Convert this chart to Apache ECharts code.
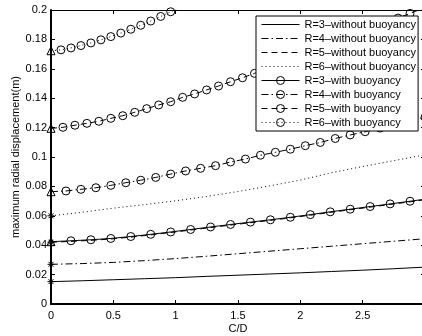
<!DOCTYPE html>
<html>
<head>
<meta charset="utf-8">
<script src="https://cdn.jsdelivr.net/npm/echarts@6/dist/echarts.min.js"></script>
<style>
html,body{margin:0;padding:0;background:#fff;}
#chart{width:422px;height:336px;}
</style>
</head>
<body>
<div id="chart"></div>
<script>
// ---- tick labels ----
var xTickLabels = ['0', '0.5', '1', '1.5', '2', '2.5', '3'];
var yTickLabels = ['0', '0.02', '0.04', '0.06', '0.08', '0.1', '0.12', '0.14', '0.16', '0.18', '0.2'];

// ---- legend names ----
var seriesNames = [
  'R=3–without buoyancy', 'R=4–without buoyancy', 'R=5–without buoyancy', 'R=6–without buoyancy',
  'R=3–with buoyancy', 'R=4–with buoyancy', 'R=5–with buoyancy', 'R=6–with buoyancy'
];

// ---- without buoyancy (C/D, displacement) ----
var cdBase = [0, 0.25, 0.5, 0.75, 1, 1.25, 1.5, 1.75, 2, 2.25, 2.5, 2.75, 3];
var r3Without = [0.0152, 0.0158, 0.0165, 0.0172, 0.0179, 0.0188, 0.0196, 0.0204, 0.0212, 0.0221, 0.0230, 0.0240, 0.0251];
var r4Without = [0.0270, 0.0275, 0.0283, 0.0295, 0.0309, 0.0325, 0.0342, 0.0359, 0.0376, 0.0393, 0.0410, 0.0427, 0.0444];
var r6Without = [0.0600, 0.0624, 0.0652, 0.0676, 0.0702, 0.0732, 0.0765, 0.0803, 0.0843, 0.0893, 0.0935, 0.0975, 0.1015];
var cdR5Without = [0, 0.16, 0.32, 0.48, 0.64, 0.8, 0.96, 1.12, 1.28, 1.44, 1.6, 1.76, 1.92, 2.08, 2.24, 2.4, 2.56, 2.72, 2.88, 3.04];
var r5Without = [0.0420, 0.0426, 0.0433, 0.0442, 0.0455, 0.0470, 0.0486, 0.0503, 0.0520, 0.0537, 0.0553, 0.0569, 0.0586, 0.0604, 0.0623, 0.0641, 0.0659, 0.0677, 0.0695, 0.0714];

// ---- with buoyancy (C/D, displacement) ----
var cdR3With = [0, 0.16, 0.32, 0.48, 0.64, 0.8, 0.96, 1.12, 1.28, 1.44, 1.6, 1.76, 1.92, 2.08, 2.24, 2.4, 2.56, 2.72, 2.88, 3.04];
var r3With = [0.0424, 0.0430, 0.0437, 0.0446, 0.0459, 0.0474, 0.0490, 0.0507, 0.0524, 0.0541, 0.0557, 0.0573, 0.0590, 0.0608, 0.0627, 0.0645, 0.0663, 0.0681, 0.0699, 0.0718];

var cdR4With = [0, 0.12, 0.24, 0.36, 0.48, 0.6, 0.72, 0.84, 0.96, 1.08, 1.2, 1.32, 1.44, 1.56, 1.68, 1.8, 1.92, 2.04, 2.16, 2.28, 2.4, 2.52, 2.64, 2.76, 2.88, 3.0];
var r4With = [0.0764, 0.0769, 0.0780, 0.0791, 0.0807, 0.0825, 0.0842, 0.0861, 0.0884, 0.0905, 0.0923, 0.0941, 0.0966, 0.0986, 0.1012, 0.1032, 0.1053, 0.1077, 0.1099, 0.1126, 0.1150, 0.1172, 0.1197, 0.1221, 0.1245, 0.1270];

var cdR5With = [0, 0.096, 0.192, 0.288, 0.384, 0.48, 0.576, 0.672, 0.768, 0.864, 0.96, 1.056, 1.152, 1.248, 1.344, 1.44, 1.536, 1.632, 1.728, 1.824, 1.92, 2.016, 2.112, 2.208, 2.304, 2.4, 2.496, 2.592, 2.688, 2.784, 2.88, 2.976];
var r5With = [0.1195, 0.1202, 0.1216, 0.1229, 0.1243, 0.1263, 0.1281, 0.1304, 0.1329, 0.1354, 0.1376, 0.1406, 0.1429, 0.1456, 0.1483, 0.1512, 0.1539, 0.1569, 0.1599, 0.1629, 0.1660, 0.1691, 0.1722, 0.1753, 0.1785, 0.1817, 0.1849, 0.1881, 0.1913, 0.1945, 0.1977, 0.2009];

var cdR6With = [0, 0.08, 0.16, 0.24, 0.32, 0.4, 0.48, 0.56, 0.64, 0.72, 0.8, 0.88, 0.96, 1.04, 1.12];
var r6With = [0.1723, 0.1729, 0.1742, 0.1758, 0.1776, 0.1797, 0.1819, 0.1843, 0.1869, 0.1896, 0.1925, 0.1956, 0.1988, 0.2021, 0.2055];

// ---- styles ----
var FONT = '"Liberation Sans", Arial, Helvetica, sans-serif';
var DASHDOT = [7, 3, 1.5, 3];
var DASHED = [6, 4];
var DOTTED = [1, 3];
var STAR = 'path://M5,0L5,10M0,5L10,5M1.5,1.5L8.5,8.5M1.5,8.5L8.5,1.5';
var lineTypes = ['solid', DASHDOT, DASHED, DOTTED, 'solid', DASHDOT, DASHED, DOTTED];

function pairs(xs, ys) {
  return xs.map(function (x, i) { return [x, ys[i]]; });
}

function withoutSeries(name, xs, ys, dash) {
  var d = pairs(xs, ys).map(function (p, i) {
    return i === 0 ? { value: p, symbol: STAR, symbolSize: 7 } : { value: p };
  });
  return {
    name: name, type: 'line', data: d,
    symbol: 'none', showSymbol: true,
    lineStyle: { color: '#000', width: 1, type: dash },
    itemStyle: { color: 'rgba(0,0,0,0)', borderColor: '#000', borderWidth: 1 },
    emphasis: { disabled: true }, animation: false, clip: true, z: 3
  };
}

function withSeries(name, xs, ys, dash) {
  var d = pairs(xs, ys).map(function (p, i) {
    return i === 0 ? { value: p, symbol: 'triangle', symbolSize: 8 } : { value: p };
  });
  return {
    name: name, type: 'line', data: d,
    symbol: 'circle', symbolSize: 8, showSymbol: true,
    lineStyle: { color: '#000', width: 1, type: dash },
    itemStyle: { color: 'rgba(0,0,0,0)', borderColor: '#000', borderWidth: 1 },
    emphasis: { disabled: true }, animation: false, clip: true, z: 3
  };
}

var legendData = seriesNames.map(function (n, i) {
  var item = {
    name: n,
    lineStyle: { color: '#000', width: 1, type: lineTypes[i] }
  };
  if (i < 4) {
    item.itemStyle = { opacity: 0, borderWidth: 0, color: 'rgba(0,0,0,0)', borderColor: 'rgba(0,0,0,0)' };
  } else {
    item.itemStyle = { color: 'rgba(0,0,0,0)', borderColor: '#000', borderWidth: 1 };
  }
  return item;
});

var chart = echarts.init(document.getElementById('chart'), null, { renderer: 'canvas' });

var option = {
  animation: false,
  backgroundColor: '#fff',
  textStyle: { fontFamily: FONT, color: '#000' },
  grid: { left: 51, top: 10, width: 374, height: 294, outerBoundsMode: 'none', containLabel: false },
  legend: {
    data: legendData,
    orient: 'vertical',
    left: 256, top: 16,
    itemWidth: 38, itemHeight: 10, itemGap: 3,
    padding: [3, 2, 3, 5],
    borderColor: '#000', borderWidth: 1, borderRadius: 0,
    backgroundColor: '#fff',
    lineStyle: { width: 1, color: '#000' },
    itemStyle: { borderWidth: 1 },
    textStyle: { fontSize: 11, color: '#000', fontFamily: FONT, lineHeight: 10 },
    selectedMode: false,
    z: 10
  },
  xAxis: [{
    type: 'value', position: 'bottom', min: 0, max: 3, interval: 0.5,
    name: 'C/D', nameLocation: 'middle', nameGap: 19, nameMoveOverlap: false,
    nameTextStyle: { fontSize: 11, color: '#000', fontFamily: FONT },
    axisLine: { show: true, onZero: false, lineStyle: { color: '#000', width: 2 } },
    axisTick: { show: true, inside: true, length: 4, lineStyle: { color: '#000', width: 1 } },
    axisLabel: {
      fontSize: 11, color: '#000', margin: 6, fontFamily: FONT, showMaxLabel: false,
      formatter: function (v) { return xTickLabels[Math.round(v / 0.5)]; }
    },
    splitLine: { show: false }
  }, {
    type: 'value', position: 'top', min: 0, max: 3, interval: 0.5,
    axisLine: { show: true, onZero: false, lineStyle: { color: '#000', width: 1 } },
    axisTick: { show: true, inside: true, length: 4, lineStyle: { color: '#000', width: 1 } },
    axisLabel: { show: false },
    splitLine: { show: false }
  }],
  yAxis: [{
    type: 'value', position: 'left', min: 0, max: 0.2, interval: 0.02,
    name: 'maximum radial displacement(m)', nameLocation: 'middle', nameGap: 30, nameMoveOverlap: false,
    nameTextStyle: { fontSize: 11, color: '#000', fontFamily: FONT },
    axisLine: { show: true, onZero: false, lineStyle: { color: '#000', width: 2 } },
    axisTick: { show: true, inside: true, length: 4, lineStyle: { color: '#000', width: 1 } },
    axisLabel: {
      fontSize: 11, color: '#000', margin: 4, fontFamily: FONT,
      formatter: function (v) { return yTickLabels[Math.round(v / 0.02)]; }
    },
    splitLine: { show: false }
  }, {
    type: 'value', position: 'right', min: 0, max: 0.2, interval: 0.02,
    axisLine: { show: true, onZero: false, lineStyle: { color: '#000', width: 1 } },
    axisTick: { show: true, inside: true, length: 4 },
    axisLabel: { show: false },
    splitLine: { show: false }
  }],
  series: [
    withoutSeries(seriesNames[0], cdBase, r3Without, 'solid'),
    withoutSeries(seriesNames[1], cdBase, r4Without, DASHDOT),
    withoutSeries(seriesNames[2], cdR5Without, r5Without, DASHED),
    withoutSeries(seriesNames[3], cdBase, r6Without, DOTTED),
    withSeries(seriesNames[4], cdR3With, r3With, 'solid'),
    withSeries(seriesNames[5], cdR4With, r4With, DASHDOT),
    withSeries(seriesNames[6], cdR5With, r5With, DASHED),
    withSeries(seriesNames[7], cdR6With, r6With, DOTTED)
  ]
};
chart.setOption(option);
</script>
</body>
</html>
